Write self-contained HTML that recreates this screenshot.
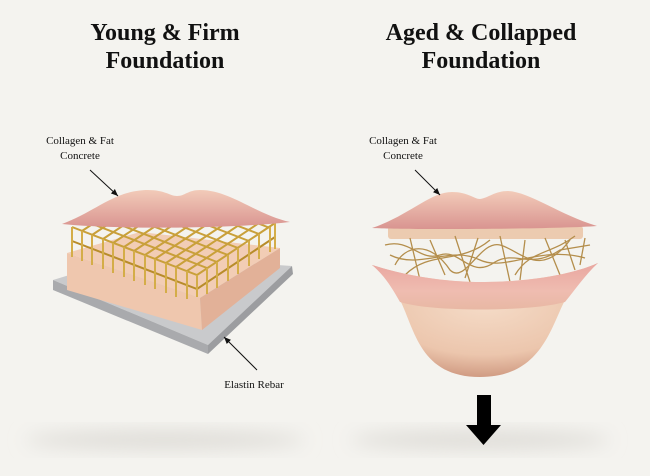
<!DOCTYPE html>
<html><head><meta charset="utf-8"><style>
html,body{margin:0;padding:0;background:#f4f3ef;}
svg{display:block}
text{font-family:"Liberation Serif",serif;fill:#111}
</style></head><body>
<svg width="650" height="476" viewBox="0 0 650 476" xmlns="http://www.w3.org/2000/svg">
<defs>
<filter id="bl" x="-50%" y="-50%" width="200%" height="200%"><feGaussianBlur stdDeviation="9"/></filter>
<linearGradient id="lip" x1="0" y1="0" x2="0" y2="1"><stop offset="0" stop-color="#f2cbb9"/><stop offset="1" stop-color="#d99490"/></linearGradient>
<linearGradient id="lip2" x1="0" y1="0" x2="0" y2="1"><stop offset="0" stop-color="#e9a6a0"/><stop offset="0.6" stop-color="#efbcb0"/><stop offset="1" stop-color="#e8b8a4"/></linearGradient>
<radialGradient id="chin" cx="0.5" cy="0.35" r="0.7"><stop offset="0" stop-color="#f5dcc8"/><stop offset="0.65" stop-color="#ecc6ad"/><stop offset="1" stop-color="#c99078"/></radialGradient>
<clipPath id="gc"><rect x="0" y="205" width="650" height="200"/></clipPath>
<marker id="ah" markerWidth="8" markerHeight="8" refX="7" refY="4" orient="auto"><path d="M0,1 L7,4 L0,7z" fill="#111"/></marker>
</defs>
<rect width="650" height="476" fill="#f4f3ef"/>
<ellipse cx="165" cy="440" rx="140" ry="9" fill="#dedcd7" filter="url(#bl)"/>
<ellipse cx="480" cy="440" rx="130" ry="9" fill="#dedcd7" filter="url(#bl)"/>

<g text-anchor="middle" font-weight="bold" font-size="24">
<text x="165" y="40">Young &amp; Firm</text>
<text x="165" y="68">Foundation</text>
<text x="481" y="40">Aged &amp; Collapped</text>
<text x="481" y="68">Foundation</text>
</g>
<g text-anchor="middle" font-size="11">
<text x="80" y="144">Collagen &amp; Fat</text>
<text x="80" y="159">Concrete</text>
<text x="403" y="144">Collagen &amp; Fat</text>
<text x="403" y="159">Concrete</text>
<text x="254" y="388">Elastin Rebar</text>
</g>

<!-- left: plate -->
<polygon points="53,280 135,255 292,266 208,345" fill="#c9cacc"/>
<polygon points="53,280 208,345 208,354 53,290" fill="#a9aaad"/>
<polygon points="208,345 292,266 293,274 208,354" fill="#9c9da0"/>
<!-- block -->
<polygon points="67,253 140,232 280,248 200,298" fill="#f2cdb5"/>
<polygon points="67,253 200,298 202,330 67,290" fill="#efc7ae"/>
<polygon points="200,298 280,248 280,268 202,330" fill="#e2b198"/>
<!-- grid -->
<g stroke="#c9a03a" stroke-width="2" fill="none" clip-path="url(#gc)">
<path d="M72,227 L197,275 L275,223"/>
<path d="M82,231 L160,179 M92,235 L170,183 M103,239 L181,187 M113,243 L191,191 M124,247 L202,195 M134,251 L212,199 M145,255 L223,203 M155,259 L233,207 M166,263 L244,211 M176,267 L254,215 M187,271 L265,219"/>
<path d="M82,220 L207,268 M92,214 L217,262 M103,207 L228,255 M113,200 L238,248 M124,193 L249,241 M134,186 L259,234 M145,180 L270,228"/>
<path d="M72,241 L197,289 L275,237" stroke="#b88c2a"/>
<path d="M72,227v30 M82,231v30 M92,235v30 M103,239v30 M113,243v30 M124,247v30 M134,251v30 M145,255v30 M155,259v30 M166,263v30 M176,267v30 M187,271v28 M197,275v22 M207,268v26 M217,262v26 M228,255v26 M238,248v26 M249,241v25 M259,234v25 M270,227v25 M275,223v26" stroke="#d4ad48"/>
</g>
<!-- upper lip left -->
<path d="M62,224 C95,212 115,190 148,190 C165,190 170,196 177,196 C185,196 188,190 200,190 C230,190 255,214 290,222 C240,228 120,230 62,224z" fill="url(#lip)"/>
<line x1="90" y1="170" x2="118" y2="196" stroke="#111" stroke-width="1" marker-end="url(#ah)"/>
<line x1="257" y1="370" x2="224" y2="337" stroke="#111" stroke-width="1" marker-end="url(#ah)"/>

<!-- right -->
<rect x="388" y="226" width="195" height="13" rx="3" fill="#eccbb0"/>
<g stroke="#b48e4c" stroke-width="1.3" fill="none">
<path d="M385,245 C410,238 420,262 440,255 C460,248 470,280 495,262 C515,250 530,270 560,250 L590,245"/>
<path d="M395,265 C405,245 430,240 450,270 C465,285 480,240 500,245 C520,250 540,280 570,240"/>
<path d="M410,238 L420,280 M430,240 L445,275 M455,236 L470,282 M478,238 L465,278 M500,236 L510,282 M525,240 L520,280 M545,238 L560,275 M565,240 L575,270 M585,238 L580,265"/>
<path d="M390,255 C420,270 450,245 480,260 C505,272 540,245 585,258"/>
<path d="M405,275 C430,250 460,265 490,240 M515,275 C530,250 550,255 575,236"/>
</g>
<path d="M372,228 C410,215 430,192 452,192 C468,192 474,199 480,199 C488,198 495,191 508,191 C530,192 560,215 597,226 C560,229 410,230 372,228z" fill="url(#lip)"/>
<path d="M372,265 C420,280 460,282 485,282 C520,282 570,276 598,263 C580,275 572,285 565,300 C550,330 540,377 480,377 C420,377 415,330 400,300 C392,285 385,275 372,265z" fill="url(#chin)"/>
<path d="M372,265 C420,280 460,282 485,282 C520,282 570,276 598,263 C585,275 575,290 565,302 C530,312 430,312 400,302 C392,288 385,276 372,265z" fill="url(#lip2)"/>
<line x1="415" y1="170" x2="440" y2="195" stroke="#111" stroke-width="1" marker-end="url(#ah)"/>
<rect x="477" y="395" width="14" height="31" fill="#000"/>
<polygon points="466,425 501,425 483.5,445" fill="#000"/>
</svg>
</body></html>
